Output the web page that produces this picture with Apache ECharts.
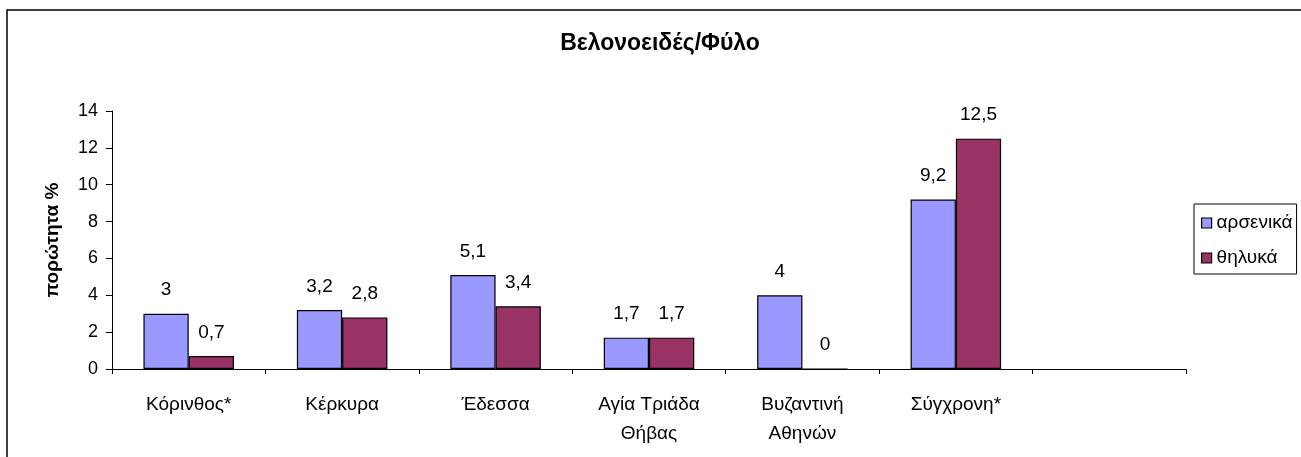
<!DOCTYPE html>
<html>
<head>
<meta charset="utf-8">
<script src="https://cdn.jsdelivr.net/npm/echarts@6/dist/echarts.min.js"></script>
<style>
  html, body { margin: 0; padding: 0; background: #fff; }
  #chart { width: 1301px; height: 457px; }
</style>
</head>
<body>
<div id="chart"></div>
<script>
// Sites (the last slot is intentionally left empty)
const categories = ['Κόρινθος*', 'Κέρκυρα', 'Έδεσσα', 'Αγία Τριάδα\nΘήβας', 'Βυζαντινή\nΑθηνών', 'Σύγχρονη*', ''];
// Frequency % per sex
const males = [3, 3.2, 5.1, 1.7, 4, 9.2, null];
const females = [0.7, 2.8, 3.4, 1.7, 0, 12.5, null];
const seriesNames = ['αρσενικά', 'θηλυκά'];
const yTicks = { min: 0, max: 14, interval: 2 };

const FONT = '"Liberation Sans", Arial, sans-serif';
const chart = echarts.init(document.getElementById('chart'), null, { renderer: 'canvas' });

const labelStyle = {
  show: true,
  position: 'top',
  distance: 14,
  color: '#000',
  fontFamily: FONT,
  fontSize: 19,
  formatter: p => String(p.value).replace('.', ',')
};

chart.setOption({
  animation: false,
  backgroundColor: '#fff',
  title: {
    text: 'Βελονοειδές/Φύλο',
    left: 660,
    textAlign: 'center',
    top: 32,
    padding: 0,
    textStyle: { fontFamily: FONT, fontSize: 23, fontWeight: 'bold', color: '#000' }
  },
  legend: {
    orient: 'vertical',
    left: 1194,
    top: 204,
    padding: [9, 4, 6, 7],
    itemGap: 15,
    itemWidth: 10,
    itemHeight: 10,
    icon: 'rect',
    borderColor: '#000',
    borderWidth: 1,
    itemStyle: { borderColor: '#000', borderWidth: 1.2 },
    textStyle: { fontFamily: FONT, fontSize: 19, color: '#000', lineHeight: 20 },
    data: seriesNames
  },
  grid: { left: 112, right: 115, top: 111, bottom: 88 },
  xAxis: {
    type: 'category',
    data: categories,
    axisLine: { lineStyle: { color: '#000', width: 1 } },
    axisTick: { show: true, alignWithLabel: false, length: 5, lineStyle: { color: '#000' } },
    axisLabel: {
      interval: 0,
      margin: 21,
      color: '#000',
      fontFamily: FONT,
      fontSize: 19,
      lineHeight: 29
    }
  },
  yAxis: {
    type: 'value',
    min: yTicks.min,
    max: yTicks.max,
    interval: yTicks.interval,
    name: 'πορώτητα %',
    nameLocation: 'middle',
    nameGap: 50,
    nameRotate: 90,
    nameTextStyle: { fontFamily: FONT, fontSize: 19, fontWeight: 'bold', color: '#000' },
    axisLine: { show: true, lineStyle: { color: '#000', width: 1 } },
    axisTick: { show: true, length: 6, lineStyle: { color: '#000' } },
    splitLine: { show: false },
    axisLabel: { margin: 14, color: '#000', fontFamily: FONT, fontSize: 18 }
  },
  series: [
    {
      name: seriesNames[0],
      type: 'bar',
      data: males,
      barGap: '0%',
      barCategoryGap: '41%',
      itemStyle: { color: '#9999FF', borderColor: '#000', borderWidth: 1.2 },
      label: labelStyle
    },
    {
      name: seriesNames[1],
      type: 'bar',
      data: females,
      barGap: '0%',
      barCategoryGap: '41%',
      itemStyle: { color: '#993366', borderColor: '#000', borderWidth: 1.2 },
      label: labelStyle
    }
  ],
  graphic: [
    {
      type: 'rect',
      shape: { x: 7, y: 10, width: 1400, height: 600 },
      style: { fill: 'none', stroke: '#000', lineWidth: 1.5 },
      silent: true,
      z: 100
    }
  ]
});
</script>
</body>
</html>
